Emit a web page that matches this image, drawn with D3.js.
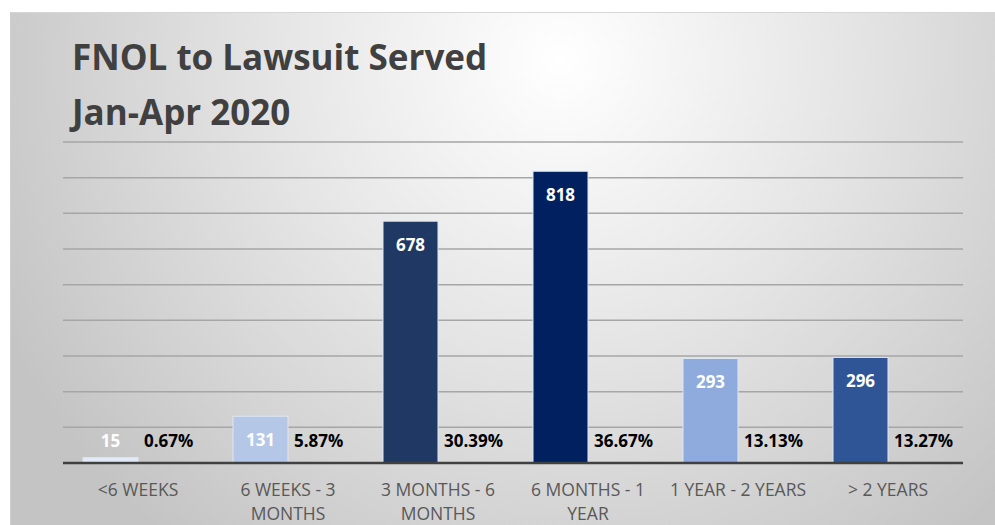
<!DOCTYPE html>
<html>
<head>
<meta charset="utf-8">
<script src="https://cdn.jsdelivr.net/npm/d3@7"></script>
<style>
  html, body { margin: 0; padding: 0; background: #fff; }
  svg { display: block; font-family: 'Open Sans', 'Liberation Sans', sans-serif; }
</style>
</head>
<body>
<script>
// data
const categories = ['<6 WEEKS', '6 WEEKS - 3 MONTHS', '3 MONTHS - 6 MONTHS', '6 MONTHS - 1 YEAR', '1 YEAR - 2 YEARS', '> 2 YEARS'];
const counts     = [15, 131, 678, 818, 293, 296];
const percents   = ['0.67%', '5.87%', '30.39%', '36.67%', '13.13%', '13.27%'];
const barColors  = ['#e3eaf6', '#b4c7e7', '#1f3864', '#002060', '#8faadc', '#2f5597'];
const yTicks     = [0, 100, 200, 300, 400, 500, 600, 700, 800, 900];
const titleLines = ['FNOL to Lawsuit Served', 'Jan-Apr 2020'];

const width  = 995;
const height = 525;
const plot   = {left: 63, right: 963, top: 142, bottom: 463};

const svg = d3.select('body').append('svg')
    .attr('width', width)
    .attr('height', height);

// fond en degrade (blanc en haut au centre, gris sur les bords)
const defs = svg.append('defs');
const grad = defs.append('radialGradient')
    .attr('id', 'bg')
    .attr('gradientUnits', 'userSpaceOnUse')
    .attr('cx', 560).attr('cy', 60).attr('r', 620);
grad.append('stop').attr('offset', '0%').attr('stop-color', '#ffffff');
grad.append('stop').attr('offset', '45%').attr('stop-color', '#e6e6e6');
grad.append('stop').attr('offset', '100%').attr('stop-color', '#c4c4c4');

svg.append('rect')
    .attr('x', 10).attr('y', 12)
    .attr('width', width - 10).attr('height', height - 12)
    .attr('fill', 'url(#bg)');
svg.append('line')
    .attr('x1', 10).attr('x2', width).attr('y1', 12.5).attr('y2', 12.5)
    .attr('stroke', '#d6d6d6');
svg.append('line')
    .attr('x1', 10.5).attr('x2', 10.5).attr('y1', 12).attr('y2', height)
    .attr('stroke', '#cfcfcf');

// titre
svg.append('g').selectAll('text')
    .data(titleLines)
    .enter().append('text')
    .attr('x', 72)
    .attr('y', (d, i) => 70 + i * 55)
    .attr('font-size', 35)
    .attr('font-weight', 700)
    .attr('fill', '#404040')
    .text(d => d);

// echelles
const x = d3.scaleBand()
    .domain(categories)
    .range([plot.left, plot.right]);
const y = d3.scaleLinear()
    .domain([0, 900])
    .range([plot.bottom, plot.top]);
const barW = 55;

// lignes de grille
svg.append('g').selectAll('line')
    .data(yTicks.slice(1))
    .enter().append('line')
    .attr('x1', plot.left).attr('x2', plot.right)
    .attr('y1', d => y(d)).attr('y2', d => y(d))
    .attr('stroke', '#a6a6a6')
    .attr('stroke-width', 1.5);

// barres (la serie des pourcentages n'a pas de barre visible)
const rows = categories.map((c, i) => ({c, n: counts[i], p: percents[i], color: barColors[i]}));
const center = d => x(d.c) + x.bandwidth() / 2;

svg.append('g').selectAll('rect')
    .data(rows)
    .enter().append('rect')
    .attr('x', d => center(d) - barW)
    .attr('y', d => y(d.n))
    .attr('width', barW)
    .attr('height', d => y(0) - y(d.n))
    .attr('fill', d => d.color)
    .attr('stroke', '#dfe6f2')
    .attr('stroke-width', 1);

// axe horizontal
svg.append('line')
    .attr('x1', plot.left).attr('x2', plot.right)
    .attr('y1', y(0)).attr('y2', y(0))
    .attr('stroke', '#404040')
    .attr('stroke-width', 2.5);

// etiquettes de valeur (blanc, dans le haut de la barre)
svg.append('g').selectAll('text')
    .data(rows)
    .enter().append('text')
    .attr('x', d => center(d) - barW / 2)
    .attr('y', d => Math.min(y(d.n) + 30, y(0) - 16))
    .attr('text-anchor', 'middle')
    .attr('font-size', 17)
    .attr('font-weight', 700)
    .attr('fill', '#ffffff')
    .text(d => d.n);

// etiquettes de pourcentage
svg.append('g').selectAll('text')
    .data(rows)
    .enter().append('text')
    .attr('x', d => center(d) + 6)
    .attr('y', y(0) - 16)
    .attr('text-anchor', 'start')
    .attr('font-size', 17)
    .attr('font-weight', 700)
    .attr('fill', '#000000')
    .text(d => d.p);

// categories, coupees sur deux lignes si trop longues
const wrapAt = 13;
const splitLabel = s => {
  if (s.length <= 16) return [s];
  const words = s.split(' ');
  const lines = [''];
  words.forEach(w => {
    const cur = lines[lines.length - 1];
    if ((cur + ' ' + w).trim().length > wrapAt && cur !== '') lines.push(w);
    else lines[lines.length - 1] = (cur + ' ' + w).trim();
  });
  return lines;
};

const cat = svg.append('g').selectAll('text')
    .data(rows)
    .enter().append('text')
    .attr('text-anchor', 'middle')
    .attr('font-size', 17.5)
    .attr('fill', '#595959');
cat.selectAll('tspan')
    .data(d => splitLabel(d.c).map(t => ({t, cx: center(d)})))
    .enter().append('tspan')
    .attr('x', d => d.cx)
    .attr('y', (d, i) => 496 + i * 24)
    .text(d => d.t);
</script>
</body>
</html>
